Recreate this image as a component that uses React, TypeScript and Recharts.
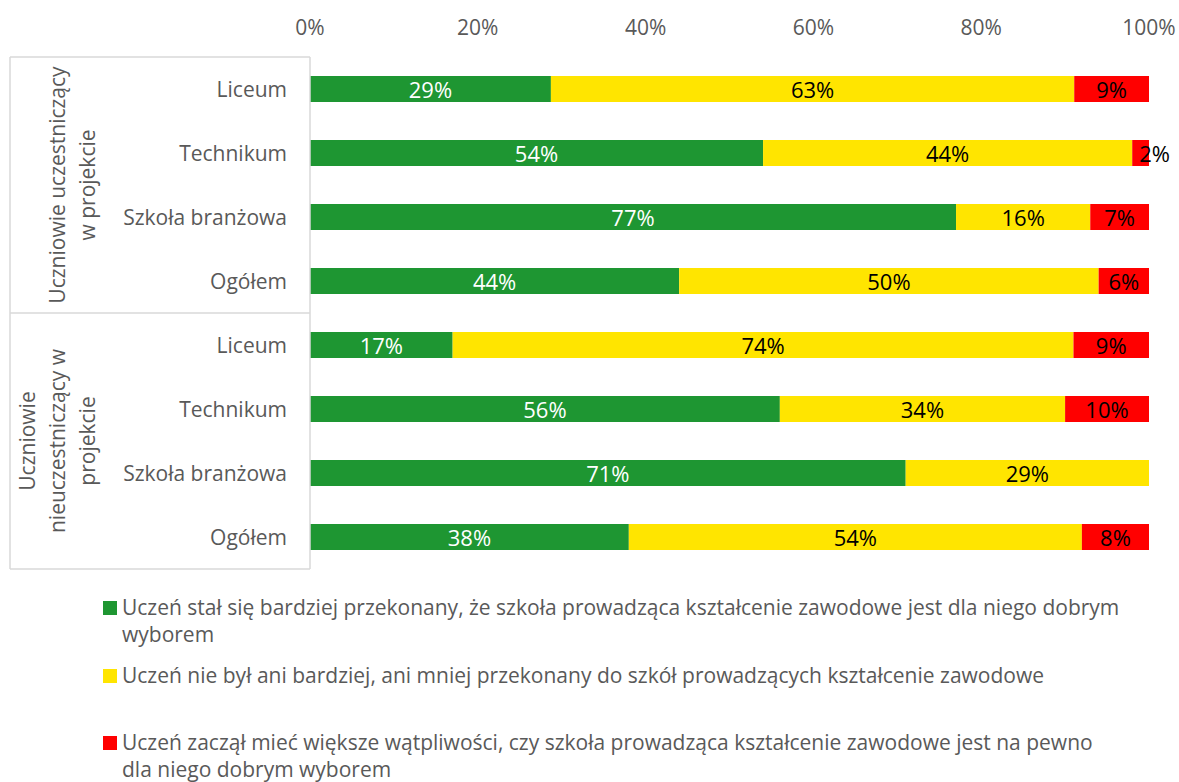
import * as React from 'react';
import { Bar, BarChart, LabelList, XAxis, YAxis } from 'recharts';

const categories = [
  'Liceum',
  'Technikum',
  'Szkoła branżowa',
  'Ogółem',
  'Liceum',
  'Technikum',
  'Szkoła branżowa',
  'Ogółem',
];
const groups = [
  ['Uczniowie uczestniczący', 'w projekcie'],
  ['Uczniowie', 'nieuczestniczący w', 'projekcie'],
];
const betterValues = [29, 54, 77, 44, 17, 56, 71, 38];
const neutralValues = [63, 44, 16, 50, 74, 34, 29, 54];
const worseValues = [9, 2, 7, 6, 9, 10, 0, 8];
const xTicks = [0, 0.2, 0.4, 0.6, 0.8, 1];

const seriesNames = [
  'Uczeń stał się bardziej przekonany, że szkoła prowadząca kształcenie zawodowe jest dla niego dobrym\nwyborem',
  'Uczeń nie był ani bardziej, ani mniej przekonany do szkół prowadzących kształcenie zawodowe',
  'Uczeń zaczął mieć większe wątpliwości, czy szkoła prowadząca kształcenie zawodowe jest na pewno\ndla niego dobrym wyborem',
];
const colors = ['#1E9632', '#FFE500', '#FF0000'];

const data = categories.map((name, i) => ({
  key: `${i}`,
  name,
  better: betterValues[i],
  neutral: neutralValues[i],
  worse: worseValues[i],
}));

const FONT = '"Open Sans", Lato, sans-serif';
const GRAY = '#595959';
const LINE = '#D9D9D9';
const BAND = 64;

function CategoryTick(props: any) {
  const { x, y, index } = props;
  const name = categories[index];
  const top = y - BAND / 2;
  const nodes: React.ReactNode[] = [];
  if (index % 4 === 0) {
    const lines = groups[index / 4];
    const cx = 87 - (lines.length - 1) * 15;
    const cy = top + BAND * 2;
    nodes.push(
      <line key="h" x1={10} x2={310} y1={top} y2={top} stroke={LINE} strokeWidth={1.5} />,
      <line key="v" x1={10} x2={10} y1={top} y2={top + BAND * 4} stroke={LINE} strokeWidth={1.5} />,
      <text
        key="g"
        transform={`translate(${cx},${cy}) rotate(-90)`}
        textAnchor="middle"
        fill={GRAY}
        fontFamily={FONT}
        fontSize={21}
      >
        {lines.map((l, i) => (
          <tspan key={i} x={0} y={(i - (lines.length - 1) / 2) * 30} dominantBaseline="central">
            {l}
          </tspan>
        ))}
      </text>
    );
  }
  if (index === categories.length - 1) {
    nodes.push(
      <line key="b" x1={10} x2={310} y1={y + BAND / 2} y2={y + BAND / 2} stroke={LINE} strokeWidth={1.5} />
    );
  }
  return (
    <g>
      {nodes}
      <text x={x} y={y} textAnchor="end" dominantBaseline="central" fill={GRAY} fontFamily={FONT} fontSize={21}>
        {name}
      </text>
    </g>
  );
}

function PercentTick(props: any) {
  const { x, payload } = props;
  return (
    <text x={x} y={27} textAnchor="middle" dominantBaseline="central" fill={GRAY} fontFamily={FONT} fontSize={21}>
      {`${Math.round(payload.value * 100)}%`}
    </text>
  );
}

function makeLabel(fill: string) {
  return function BarLabel(props: any) {
    const { x, y, width, height, value } = props;
    if (!value) return null;
    const small = width < 25;
    const cx = small ? x + width / 2 + 14 : x + width / 2;
    return (
      <text
        x={cx}
        y={y + height / 2}
        textAnchor="middle"
        dominantBaseline="central"
        fill={fill}
        fontFamily={FONT}
        fontSize={22}
      >
        {`${value}%`}
      </text>
    );
  };
}

export default function App() {
  return (
    <div style={{ position: 'absolute', left: 0, top: 0, width: 1179, height: 782, background: '#fff' }}>
      <BarChart
        width={1179}
        height={590}
        data={data}
        layout="vertical"
        stackOffset="expand"
        barSize={26}
        margin={{ top: 27, right: 30, bottom: 21, left: 10 }}
      >
        <XAxis
          type="number"
          orientation="top"
          domain={[0, 1]}
          ticks={xTicks}
          height={30}
          axisLine={false}
          tickLine={false}
          tick={<PercentTick />}
        />
        <YAxis
          type="category"
          dataKey="key"
          width={300}
          tickSize={0}
          tickMargin={23}
          interval={0}
          axisLine={{ stroke: LINE, strokeWidth: 1.5 }}
          tickLine={false}
          tick={<CategoryTick />}
        />
        <Bar dataKey="better" stackId="a" fill={colors[0]} isAnimationActive={false}>
          <LabelList dataKey="better" content={makeLabel('#FFFFFF')} />
        </Bar>
        <Bar dataKey="neutral" stackId="a" fill={colors[1]} isAnimationActive={false}>
          <LabelList dataKey="neutral" content={makeLabel('#000000')} />
        </Bar>
        <Bar dataKey="worse" stackId="a" fill={colors[2]} isAnimationActive={false}>
          <LabelList dataKey="worse" content={makeLabel('#000000')} />
        </Bar>
      </BarChart>
      <div style={{ position: 'absolute', left: 103, top: 594, fontFamily: FONT, fontSize: 21, color: GRAY }}>
        {seriesNames.map((name, i) => (
          <div key={i} style={{ display: 'flex', alignItems: 'flex-start', height: 67.5 }}>
            <div style={{ width: 14, height: 14, background: colors[i], marginTop: 7, marginRight: 5, flex: 'none' }} />
            <div style={{ whiteSpace: 'pre-line', lineHeight: '27px' }}>{name}</div>
          </div>
        ))}
      </div>
    </div>
  );
}
